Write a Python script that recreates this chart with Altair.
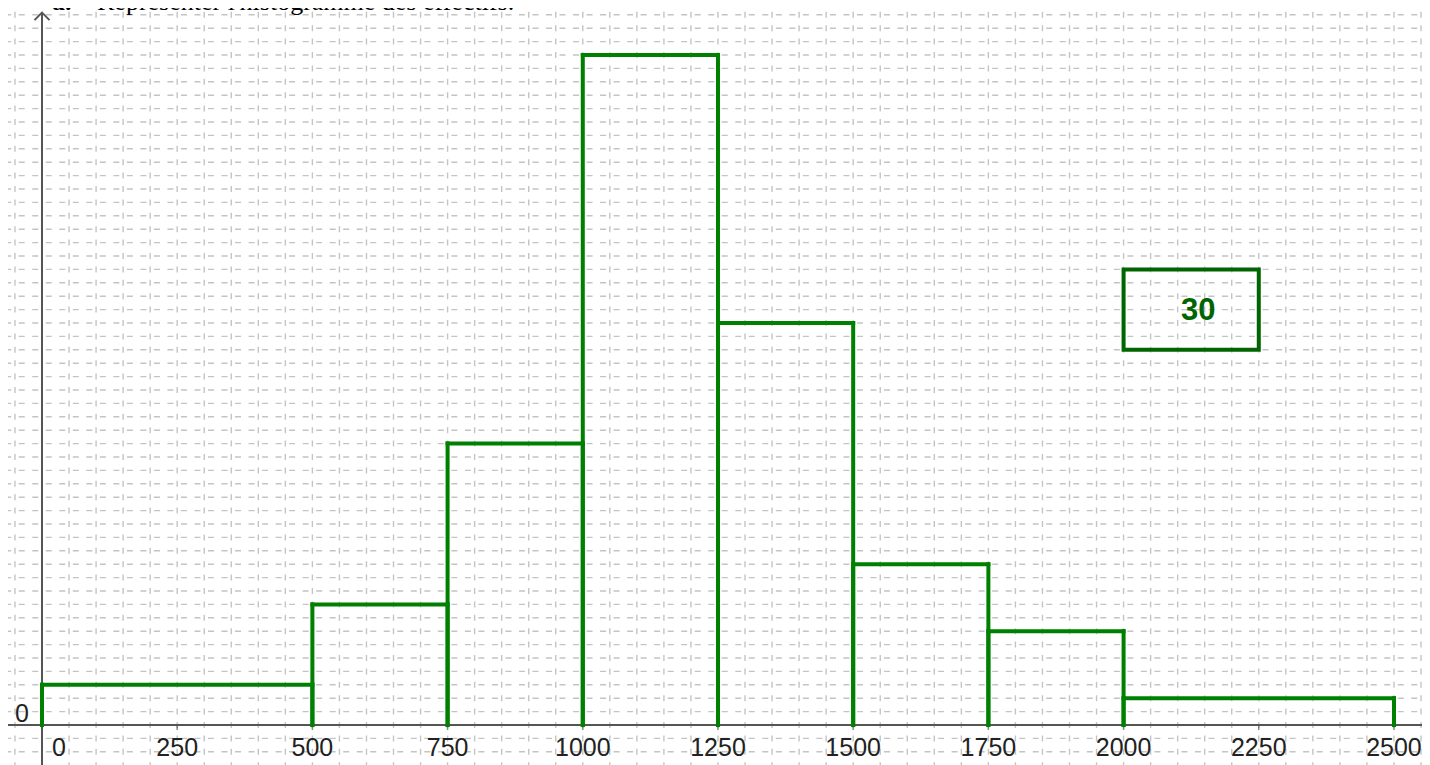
import altair as alt
import numpy as np
import pandas as pd

# ---------------- data ----------------
classe_debut = [0, 500, 750, 1000, 1250, 1500, 1750, 2000]
classe_fin = [500, 750, 1000, 1250, 1500, 1750, 2000, 2500]
hauteur = [3, 9, 21, 50, 30, 12, 7, 2]          # height in grid units
graduations_x = [250, 500, 750, 1000, 1250, 1500, 1750, 2000, 2250, 2500]
etiquettes_x = ["250", "500", "750", "1000", "1250", "1500", "1750", "2000", "2250", "2500"]
origine = [0]
etiquette_origine = ["0"]
legende_x = [2000, 2250]
legende_y = [28, 34]
legende_texte = ["30"]
titre_lettre = "a."
titre_texte = "Représenter l'histogramme des effectifs."

# ---------------- layout ----------------
W, H = 1414, 757
EXTRA = 8                      # drawing past the view edge
PX_PER_X = 0.54079             # pixels per x unit
PX_PER_Y = 13.4                # pixels per grid unit
X0 = -62.87
Y1 = 53.507
X_DOMAIN = [X0, X0 + W / PX_PER_X]
Y_DOMAIN = [Y1 - H / PX_PER_Y, Y1]
Y_AXIS_TOP = 53.16
GREEN = "#008000"
DARK_GREEN = "#006400"
GRID = "#c4c4c4"
AXIS = "#555555"
LABEL = "#222222"

xs = alt.Scale(domain=X_DOMAIN, nice=False, zero=False)
ys = alt.Scale(domain=Y_DOMAIN, nice=False, zero=False)

# grid positions (every 50 in x, every unit in y)
grid_v = pd.DataFrame({"gx": np.arange(-50, 2551, 50)})
grid_h = pd.DataFrame({"gy": np.arange(-2, 54, 1)})

vgrid = alt.Chart(grid_v).mark_rule(
    color=GRID, strokeWidth=1.4, strokeDash=[6, 7.4], strokeDashOffset=9.6
).encode(
    x=alt.X("gx:Q", scale=xs, axis=None),
    y=alt.value(0),
    y2=alt.value(H + EXTRA),
)
hgrid = alt.Chart(grid_h).mark_rule(
    color=GRID, strokeWidth=1.4, strokeDash=[6, 7.52], strokeDashOffset=2.8
).encode(
    y=alt.Y("gy:Q", scale=ys, axis=None),
    x=alt.value(0),
    x2=alt.value(W + 2 * EXTRA),
)

# axes
orig_df = pd.DataFrame({"x": origine, "y": origine, "lab": etiquette_origine})
x_axis = alt.Chart(orig_df).mark_rule(color=AXIS, strokeWidth=2).encode(
    y=alt.Y("y:Q", scale=ys, axis=None),
    x=alt.value(-2),
    x2=alt.value(W + 2 * EXTRA),
)
y_axis_df = pd.DataFrame({"x": origine, "y1": [Y_AXIS_TOP]})
y_axis = alt.Chart(y_axis_df).mark_rule(color=AXIS, strokeWidth=2).encode(
    x=alt.X("x:Q", scale=xs, axis=None),
    y=alt.Y("y1:Q", scale=ys, axis=None),
    y2=alt.value(H + EXTRA),
)
arrow_df = pd.DataFrame({"x": origine, "y": [Y_AXIS_TOP]})
arrow = alt.Chart(arrow_df).mark_point(
    shape="M-1,1L0,0L1,1", size=225, filled=False, stroke=AXIS, strokeWidth=2, opacity=1
).encode(
    x=alt.X("x:Q", scale=xs, axis=None),
    y=alt.Y("y:Q", scale=ys, axis=None),
)

ticks_df = pd.DataFrame({"x": graduations_x, "y": [0] * len(graduations_x), "lab": etiquettes_x})
ticks = alt.Chart(ticks_df).mark_tick(
    orient="vertical", size=5, thickness=1.5, color=AXIS, yOffset=2.5
).encode(
    x=alt.X("x:Q", scale=xs, axis=None),
    y=alt.Y("y:Q", scale=ys, axis=None),
)
x_labels = alt.Chart(ticks_df).mark_text(
    font="Liberation Sans", fontSize=25, color=LABEL, align="center",
    baseline="alphabetic", dy=31, dx=0
).encode(
    x=alt.X("x:Q", scale=xs, axis=None),
    y=alt.Y("y:Q", scale=ys, axis=None),
    text="lab:N",
)
x0_label = alt.Chart(orig_df).mark_text(
    font="Liberation Sans", fontSize=25, color=LABEL, align="center",
    baseline="alphabetic", dy=31, dx=17
).encode(
    x=alt.X("x:Q", scale=xs, axis=None),
    y=alt.Y("y:Q", scale=ys, axis=None),
    text="lab:N",
)
y0_label = alt.Chart(orig_df).mark_text(
    font="Liberation Sans", fontSize=25, color=LABEL, align="right",
    baseline="alphabetic", dy=-3, dx=-13
).encode(
    x=alt.X("x:Q", scale=xs, axis=None),
    y=alt.Y("y:Q", scale=ys, axis=None),
    text="lab:N",
)

# histogram outline (bars without bottom edge)
seg = []
for a, b, h in zip(classe_debut, classe_fin, hauteur):
    seg.append({"x": a, "x2": a, "y": 0, "y2": h})
    seg.append({"x": b, "x2": b, "y": 0, "y2": h})
    seg.append({"x": a, "x2": b, "y": h, "y2": h})
seg_df = pd.DataFrame(seg)
hist = alt.Chart(seg_df).mark_rule(color=GREEN, strokeWidth=4, strokeCap="square").encode(
    x=alt.X("x:Q", scale=xs, axis=None),
    x2="x2:Q",
    y=alt.Y("y:Q", scale=ys, axis=None),
    y2="y2:Q",
)

# legend box : 30
box_df = pd.DataFrame({
    "x": [legende_x[0]], "x2": [legende_x[1]],
    "y": [legende_y[0]], "y2": [legende_y[1]],
    "xm": [sum(legende_x) / 2], "ym": [sum(legende_y) / 2],
    "lab": legende_texte,
})
box = alt.Chart(box_df).mark_rect(
    fillOpacity=0, stroke=DARK_GREEN, strokeWidth=4, strokeJoin="miter"
).encode(
    x=alt.X("x:Q", scale=xs, axis=None),
    x2="x2:Q",
    y=alt.Y("y:Q", scale=ys, axis=None),
    y2="y2:Q",
)
box_text = alt.Chart(box_df).mark_text(
    font="Liberation Sans", fontSize=31, fontWeight="bold", color=DARK_GREEN,
    align="center", baseline="middle", dx=7, dy=1
).encode(
    x=alt.X("xm:Q", scale=xs, axis=None),
    y=alt.Y("ym:Q", scale=ys, axis=None),
    text="lab:N",
)

# title (mostly above the visible area, as in the reference)
title_df = pd.DataFrame({"a": [titre_lettre], "t": [titre_texte]})
title_a = alt.Chart(title_df).mark_text(
    font="Liberation Serif", fontSize=26, fontWeight="bold", color="#000000",
    align="left", baseline="alphabetic"
).encode(x=alt.value(44), y=alt.value(2), text="a:N")
title_t = alt.Chart(title_df).mark_text(
    font="Liberation Serif", fontSize=26, color="#000000",
    align="left", baseline="alphabetic"
).encode(x=alt.value(89), y=alt.value(2), text="t:N")

chart = alt.layer(
    vgrid, hgrid, x_axis, y_axis, ticks, hist, box, box_text,
    x_labels, x0_label, y0_label, arrow, title_a, title_t
).properties(
    width=W, height=H,
    autosize=alt.AutoSizeParams(type="none"),
    padding=0,
).configure_view(strokeWidth=0)

chart.save("out.html", embed_options={"renderer": "svg", "actions": False})
